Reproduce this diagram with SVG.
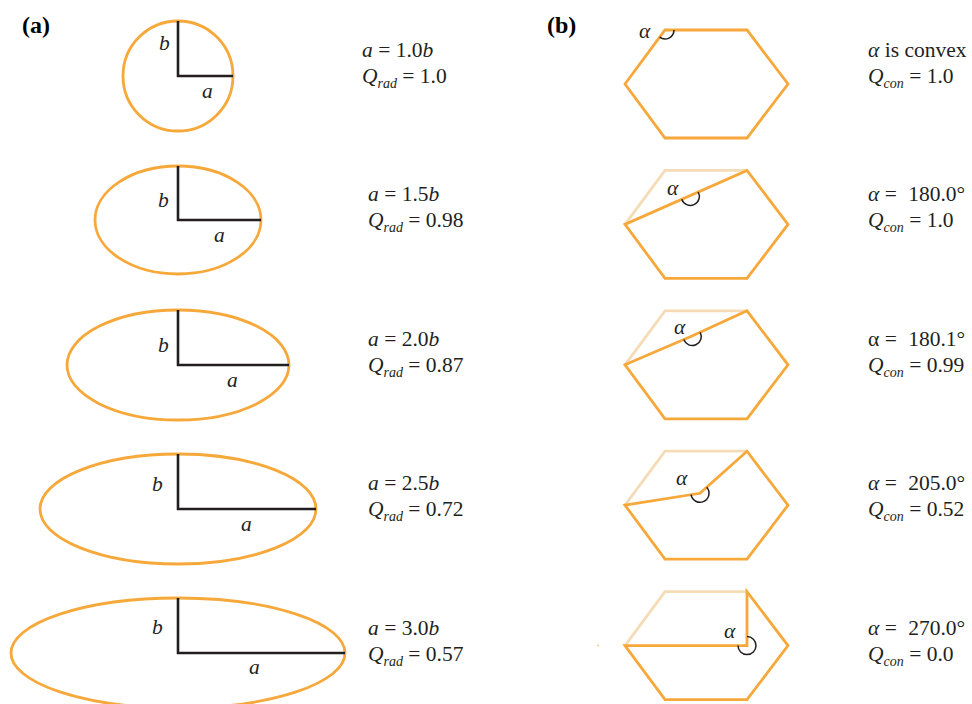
<svg xmlns="http://www.w3.org/2000/svg" width="972" height="704" viewBox="0 0 972 704">
<style>
.sh{fill:none;stroke:#F6A83A;stroke-width:2.8;stroke-linejoin:miter}
.fa{fill:none;stroke:#F5DCB6;stroke-width:2.8}
.ax{fill:none;stroke:#231F20;stroke-width:2.6}
.arc{fill:none;stroke:#231F20;stroke-width:1.5}
.t{font-family:"Liberation Serif",serif;font-size:21.5px;fill:#231F20}
.i{font-style:italic}
.sub{font-size:14px;font-style:italic}
.lab{font-family:"Liberation Serif",serif;font-size:24px;font-weight:bold;fill:#000}
</style>
<rect width="972" height="704" fill="#fff"/>
<text class="lab" x="22" y="33">(a)</text>
<text class="lab" x="547" y="33">(b)</text>

<g id="ellipses">
<g id="e1">
<ellipse class="sh" cx="178" cy="76" rx="55" ry="55"/>
<path class="ax" d="M178 21V76H233"/>
<text class="t i" x="159" y="50">b</text>
<text class="t i" x="202" y="98">a</text>
</g>
<g id="e2">
<ellipse class="sh" cx="178" cy="220" rx="83" ry="54"/>
<path class="ax" d="M178 166V220H261"/>
<text class="t i" x="158" y="207">b</text>
<text class="t i" x="214" y="242">a</text>
</g>
<g id="e3">
<ellipse class="sh" cx="178" cy="365" rx="111" ry="55"/>
<path class="ax" d="M178 310V365H289"/>
<text class="t i" x="158" y="352">b</text>
<text class="t i" x="227" y="387">a</text>
</g>
<g id="e4">
<ellipse class="sh" cx="178" cy="509" rx="138" ry="55"/>
<path class="ax" d="M178 454V509H316"/>
<text class="t i" x="152" y="491">b</text>
<text class="t i" x="241" y="531">a</text>
</g>
<g id="e5">
<ellipse class="sh" cx="178" cy="653" rx="167" ry="55"/>
<path class="ax" d="M178 598V653H345"/>
<text class="t i" x="152" y="634">b</text>
<text class="t i" x="249" y="674">a</text>
</g>
</g>

<g id="text-a">
<text class="t" x="362" y="57"><tspan class="i">a</tspan> = 1.0<tspan class="i">b</tspan></text>
<text class="t" x="362" y="83"><tspan class="i">Q</tspan><tspan class="sub" dy="5">rad</tspan><tspan dy="-5"> = 1.0</tspan></text>
<text class="t" x="368" y="201"><tspan class="i">a</tspan> = 1.5<tspan class="i">b</tspan></text>
<text class="t" x="368" y="227"><tspan class="i">Q</tspan><tspan class="sub" dy="5">rad</tspan><tspan dy="-5"> = 0.98</tspan></text>
<text class="t" x="368" y="346"><tspan class="i">a</tspan> = 2.0<tspan class="i">b</tspan></text>
<text class="t" x="368" y="372"><tspan class="i">Q</tspan><tspan class="sub" dy="5">rad</tspan><tspan dy="-5"> = 0.87</tspan></text>
<text class="t" x="368" y="490"><tspan class="i">a</tspan> = 2.5<tspan class="i">b</tspan></text>
<text class="t" x="368" y="516"><tspan class="i">Q</tspan><tspan class="sub" dy="5">rad</tspan><tspan dy="-5"> = 0.72</tspan></text>
<text class="t" x="368" y="635"><tspan class="i">a</tspan> = 3.0<tspan class="i">b</tspan></text>
<text class="t" x="368" y="661"><tspan class="i">Q</tspan><tspan class="sub" dy="5">rad</tspan><tspan dy="-5"> = 0.57</tspan></text>
</g>

<g id="hexagons">
<g id="h1">
<path class="sh" d="M625 84L665 30H747L788 84L747 138H665Z"/>
<path class="arc" d="M674 30A9 9 0 0 1 659.6 37.2"/>
<text class="t i" x="639" y="38">α</text>
</g>
<g id="h2">
<path class="fa" d="M625 224.4L665 170.4H747"/>
<path class="sh" d="M625 224.4L747 170.4L788 224.4L747 278.4H665Z"/>
<path class="arc" d="M681.8 199.2A9 9 0 1 0 698.2 192"/>
<text class="t i" x="667" y="195">α</text>
</g>
<g id="h3">
<path class="fa" d="M625 364.8L665 310.8H747"/>
<path class="sh" d="M625 364.8L692 336L747 310.8L788 364.8L747 418.8H665Z"/>
<path class="arc" d="M683.8 339.6A9 9 0 1 0 700.2 332.3"/>
<text class="t i" x="674" y="334">α</text>
</g>
<g id="h4">
<path class="fa" d="M625 505.2L665 451.2H747"/>
<path class="sh" d="M625 505.2L700 493.3L747 451.2L788 505.2L747 559.2H665Z"/>
<path class="arc" d="M691.1 494.7A9 9 0 1 0 706.7 487.3"/>
<text class="t i" x="676" y="485">α</text>
</g>
<g id="h5">
<path class="fa" d="M625 645.6L665 591.6H747"/>
<path class="sh" d="M625 645.6H747V591.6L788 645.6L747 699.6H665Z"/>
<path class="arc" d="M738 645.6A9 9 0 1 0 747 636.6"/>
<text class="t i" x="724" y="638">α</text>
<circle cx="598" cy="645.5" r="1" fill="#F6C98A"/>
</g>
</g>

<g id="text-b">
<text class="t" x="868" y="57"><tspan class="i">α</tspan> is convex</text>
<text class="t" x="868" y="83"><tspan class="i">Q</tspan><tspan class="sub" dy="5">con</tspan><tspan dy="-5"> = 1.0</tspan></text>
<text class="t" x="868" y="201"><tspan class="i">α</tspan> = <tspan dx="6">180.0°</tspan></text>
<text class="t" x="868" y="227"><tspan class="i">Q</tspan><tspan class="sub" dy="5">con</tspan><tspan dy="-5"> = 1.0</tspan></text>
<text class="t" x="868" y="346">α = <tspan dx="6">180.1°</tspan></text>
<text class="t" x="868" y="372"><tspan class="i">Q</tspan><tspan class="sub" dy="5">con</tspan><tspan dy="-5"> = 0.99</tspan></text>
<text class="t" x="868" y="490"><tspan class="i">α</tspan> = <tspan dx="6">205.0°</tspan></text>
<text class="t" x="868" y="516"><tspan class="i">Q</tspan><tspan class="sub" dy="5">con</tspan><tspan dy="-5"> = 0.52</tspan></text>
<text class="t" x="868" y="635"><tspan class="i">α</tspan> = <tspan dx="6">270.0°</tspan></text>
<text class="t" x="868" y="661"><tspan class="i">Q</tspan><tspan class="sub" dy="5">con</tspan><tspan dy="-5"> = 0.0</tspan></text>
</g>
</svg>
